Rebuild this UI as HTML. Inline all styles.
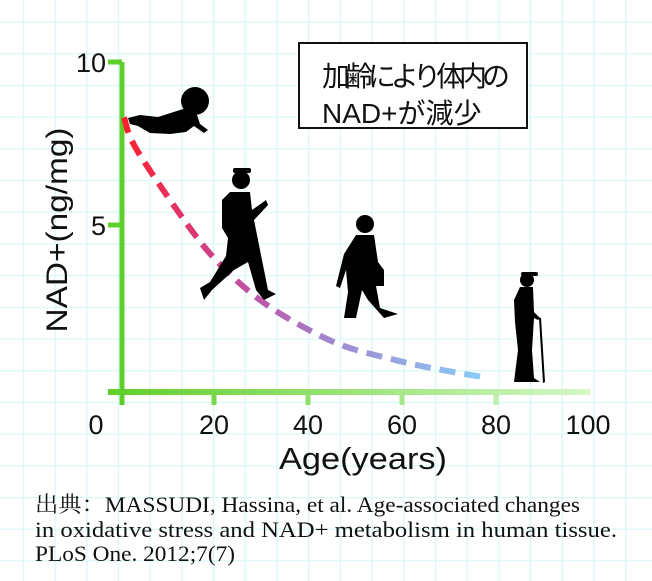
<!DOCTYPE html>
<html><head><meta charset="utf-8"><style>
body{margin:0;background:#fff}
svg{display:block}
text{font-family:"Liberation Sans","Noto Sans CJK JP",sans-serif}
.cap{font-family:"Liberation Serif","Noto Serif CJK SC",serif;font-size:22px;fill:#111}
</style></head><body>
<svg id="chart" width="652" height="581" viewBox="0 0 652 581">
<defs>
<pattern id="grid" x="22.8" y="21.5" width="31.7" height="31.7" patternUnits="userSpaceOnUse">
<path d="M0.5 0V31.7M0 0.5H31.7" stroke="#d6f7f8" stroke-width="1.3" fill="none"/>
</pattern>
<linearGradient id="xg" gradientUnits="userSpaceOnUse" x1="108" y1="0" x2="590" y2="0"><stop offset="0" stop-color="#5fcf2a"/><stop offset="1" stop-color="#d6f7c8"/></linearGradient>
<linearGradient id="cg" gradientUnits="userSpaceOnUse" x1="124" y1="0" x2="480" y2="0">
<stop offset="0" stop-color="#ff1f2e"/><stop offset="0.3" stop-color="#c6479a"/><stop offset="0.6" stop-color="#a08ad2"/><stop offset="1" stop-color="#88ccf4"/></linearGradient>
</defs>
<rect width="652" height="581" fill="url(#grid)"/>
<g id="axes"></g>
<path id="curve" fill="none" stroke="url(#cg)" stroke-width="6" stroke-dasharray="16 9"/>
<g fill="#000">
<g>
<circle cx="195" cy="101" r="14"/>
<path d="M128 118 L140 115 L158 117 L180 110 L186 108 L196 112 L200 124 L208 130 L204 133 L194 126 L186 132 L170 134 L150 133 L138 126 L130 124 Z"/>
</g>
<g>
<circle cx="241" cy="180" r="9"/><rect x="233" y="168" width="18" height="5" rx="2"/>
<path d="M230 192 L250 192 L252 210 L266 200 L268 205 L254 220 L258 240 L262 260 L268 290 L276 294 L264 300 L256 290 L248 262 L234 270 L212 290 L204 300 L200 288 L210 282 L226 256 L228 238 L222 228 L222 200 Z"/>
</g>
<g>
<circle cx="365" cy="224" r="9"/>
<path d="M356 235 L374 235 L378 262 L384 270 L384 286 L376 286 L380 308 L398 314 L384 318 L368 300 L362 290 L356 318 L344 318 L348 292 L346 270 L340 288 L336 286 L344 254 Z"/>
</g>
<g>
<circle cx="527" cy="280" r="7"/><rect x="521" y="272" width="17" height="4" rx="2"/>
<path d="M520 287 L533 287 L534 312 L540 318 L538 320 L534 318 L532 350 L534 378 L540 382 L514 382 L518 350 L515 322 L514 300 Z"/>
<path d="M539 318 L541 318 L545 382 L543 383 Z"/>
</g>
</g>
<g>
<rect x="299" y="43" width="228" height="85" fill="#fff" stroke="#111" stroke-width="2"/>
<text x="322" y="86" font-size="28" fill="#111" textLength="188">加齢により体内の</text>
<text x="322" y="123" font-size="28" fill="#111">NAD+が減少</text>
</g>
<text transform="translate(67,230) rotate(-90)" text-anchor="middle" font-size="30" fill="#111" textLength="205" lengthAdjust="spacingAndGlyphs">NAD+(ng/mg)</text>
<text x="279" y="469" font-size="31" fill="#111" textLength="168" lengthAdjust="spacingAndGlyphs">Age(years)</text>
<g>
<text class="cap" x="35" y="512" textLength="545" lengthAdjust="spacingAndGlyphs">出典：MASSUDI, Hassina, et al. Age-associated changes</text>
<text class="cap" x="35" y="537" textLength="582" lengthAdjust="spacingAndGlyphs">in oxidative stress and NAD+ metabolism in human tissue.</text>
<text class="cap" x="35" y="561" textLength="200" lengthAdjust="spacingAndGlyphs">PLoS One. 2012;7(7)</text>
</g>
</svg>
<script>
const ages = [0.85, 3.6, 14.9, 21.9, 29.8, 38, 47.4, 57.4, 66, 76.6];
const nadValues = [8.3, 7.3, 4.9, 3.7, 2.7, 1.95, 1.3, 0.9, 0.62, 0.35];
const xTicks = [0, 20, 40, 60, 80, 100];
const yTicks = [5, 10];
const xs = a => 120 + 4.7 * a;
const ys = v => 388 - 32.6 * v;
const AXIS_Y = 392;
const NS = "http://www.w3.org/2000/svg";
const axes = document.getElementById('axes');
function mk(tag, attrs){const e=document.createElementNS(NS,tag);for(const k in attrs)e.setAttribute(k,attrs[k]);return e;}
const xa = mk('line',{x1:108,y1:AXIS_Y,x2:590,y2:AXIS_Y,stroke:'url(#xg)','stroke-width':6});


axes.appendChild(xa);
const ya = mk('line',{x1:122,y1:ys(10),x2:122,y2:405,stroke:'#5fcf2a','stroke-width':5});


axes.appendChild(ya);
xTicks.forEach(t=>{
  if(t>0 && t<100){
    const c = t/100;
    const tk = mk('line',{x1:xs(t),y1:AXIS_Y,x2:xs(t),y2:405,stroke:`rgb(${Math.round(95+(214-95)*c)},${Math.round(207+(247-207)*c)},${Math.round(42+(200-42)*c)})`,'stroke-width':5});
    
    
    axes.appendChild(tk);
  }
  let lx = xs(t); if(t===0) lx -= 24; if(t===100) lx -= 2;
  const lb = mk('text',{x:lx,y:434,'text-anchor':'middle','font-size':27,fill:'#111'});
  lb.textContent = t;
  
  
  axes.appendChild(lb);
});
yTicks.forEach(t=>{
  const tk = mk('line',{x1:108,y1:ys(t),x2:122,y2:ys(t),stroke:'#5fcf2a','stroke-width':5});
  
  
  axes.appendChild(tk);
  const lb = mk('text',{x:106,y:ys(t)+10,'text-anchor':'end','font-size':27,fill:'#111'});
  lb.textContent = t;
  
  
  axes.appendChild(lb);
});
const pts = ages.map((a,i)=>[xs(a), ys(nadValues[i])]);
let d = `M${pts[0][0]},${pts[0][1]}`;
for(let i=0;i<pts.length-1;i++){
  const p0=pts[Math.max(0,i-1)],p1=pts[i],p2=pts[i+1],p3=pts[Math.min(pts.length-1,i+2)];
  const c1=[p1[0]+(p2[0]-p0[0])/6,p1[1]+(p2[1]-p0[1])/6];
  const c2=[p2[0]-(p3[0]-p1[0])/6,p2[1]-(p3[1]-p1[1])/6];
  d+=` C${c1[0]},${c1[1]} ${c2[0]},${c2[1]} ${p2[0]},${p2[1]}`;
}
document.getElementById('curve').setAttribute('d', d);
</script>
</body></html>
